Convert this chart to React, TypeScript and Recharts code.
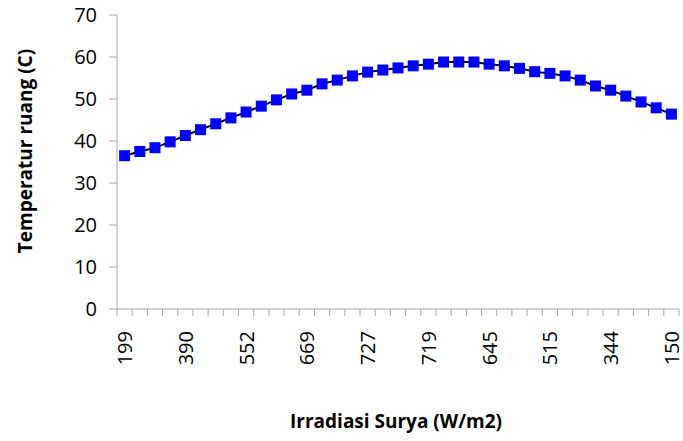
import React from 'react';
import { LineChart, Line, XAxis, YAxis } from 'recharts';

const irradiance = [199, 250, 300, 345, 390, 432, 475, 515, 552, 585, 617, 645, 669, 690, 706, 719, 727, 731, 731, 727, 719, 706, 690, 669, 645, 617, 585, 552, 515, 475, 432, 390, 344, 300, 250, 199, 150];
const temperature = [36.5, 37.5, 38.4, 39.8, 41.3, 42.7, 44.1, 45.5, 46.9, 48.3, 49.8, 51.2, 52.1, 53.6, 54.5, 55.5, 56.4, 56.9, 57.4, 57.9, 58.3, 58.8, 58.8, 58.8, 58.3, 57.9, 57.3, 56.5, 56.1, 55.5, 54.5, 53.1, 52.1, 50.7, 49.3, 47.9, 46.4];
const yTicks = [0, 10, 20, 30, 40, 50, 60, 70];

const data = irradiance.map((irr, i) => ({ pos: i + 0.5, irr, temp: temperature[i] }));
const xTicks: number[] = [];
for (let k = 0; k <= irradiance.length * 2; k++) xTicks.push(k / 2);

const FONT = "'Open Sans', sans-serif";
const AXIS = '#a6a6a6';

const XTick = (props: any) => {
  const { x, y, payload } = props;
  const v = payload.value as number;
  if (Number.isInteger(v)) {
    return <line x1={x} x2={x} y1={y} y2={y + 7} stroke={AXIS} strokeWidth={1} />;
  }
  const i = Math.floor(v);
  if (i % 4 !== 0) return <g />;
  const ty = y + 22;
  return (
    <text x={x} y={ty} transform={`rotate(-90 ${x} ${ty})`} textAnchor="end" dominantBaseline="central" fontFamily={FONT} fontSize={20} fill="#000">
      {irradiance[i]}
    </text>
  );
};

const YTitle = () => (
  <text x={25} y={151} transform="rotate(-90 25 151)" textAnchor="middle" dominantBaseline="central" fontFamily={FONT} fontSize={19} fontWeight="bold" fill="#000">
    Temperatur ruang (C)
  </text>
);

const XTitle = () => (
  <text x={396} y={421} textAnchor="middle" dominantBaseline="central" fontFamily={FONT} fontSize={19} fontWeight="bold" fill="#000">
    Irradiasi Surya (W/m2)
  </text>
);

const Dot = (p: any) => (
  <rect key={`d${p.index}`} x={p.cx - 5.5} y={p.cy - 5.5} width={11} height={11} fill="#0000ff" />
);

export default function App() {
  return (
    <div style={{ position: 'absolute', left: 0, top: 0, background: '#fff' }}>
      <LineChart width={683} height={441} data={data} margin={{ top: 15, right: 4, bottom: 0, left: 0 }}>
        <XAxis
          dataKey="pos"
          type="number"
          domain={[0, irradiance.length]}
          ticks={xTicks}
          interval={0}
          tick={<XTick />}
          tickLine={false}
          tickSize={0}
          tickMargin={0}
          height={132}
          axisLine={{ stroke: AXIS, strokeWidth: 1 }}
          label={<XTitle />}
        />
        <YAxis
          type="number"
          domain={[0, 70]}
          ticks={yTicks}
          interval={0}
          width={117}
          tickSize={8}
          tickMargin={12}
          tickLine={{ stroke: AXIS }}
          axisLine={{ stroke: AXIS, strokeWidth: 1 }}
          tick={{ fontFamily: FONT, fontSize: 20, fill: '#000' }}
          label={<YTitle />}
        />
        <Line
          dataKey="temp"
          stroke="#000"
          strokeWidth={2}
          dot={Dot}
          activeDot={false}
          isAnimationActive={false}
        />
      </LineChart>
    </div>
  );
}
